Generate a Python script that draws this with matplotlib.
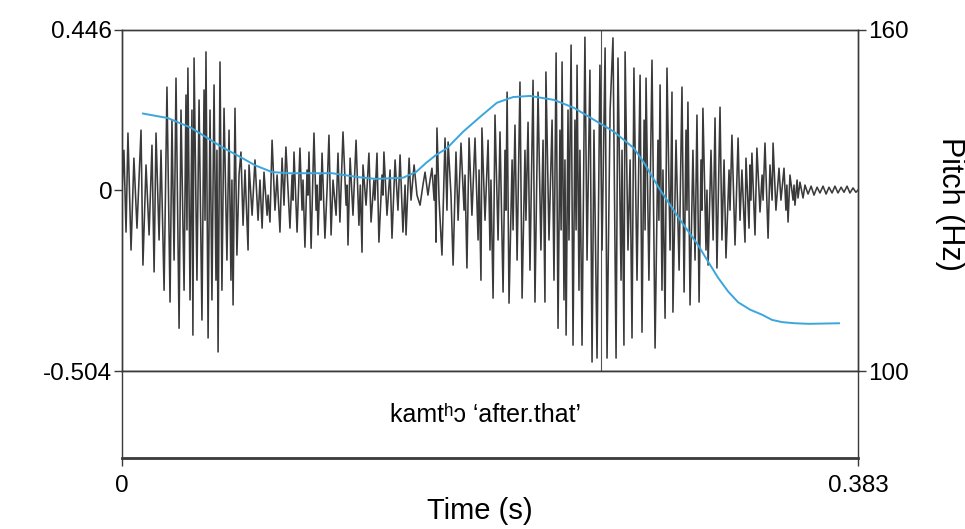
import matplotlib
matplotlib.use("Agg")
import matplotlib.pyplot as plt

# Waveform extremes (time in ms, amplitude) read along the utterance
wave_t_ms = [
    0.0, 1.0, 2.1, 3.1, 4.7, 6.2, 7.8, 9.9, 10.9, 12.5, 14.1, 15.6, 16.7, 17.7, 19.3, 20.3,
    21.9, 23.4, 25.0, 26.0, 27.1, 28.1, 29.7, 30.7, 32.3, 33.3, 33.8, 34.3, 35.4, 36.4, 36.9,
    37.5, 39.0, 40.1, 41.6, 42.7, 43.2, 43.7, 44.8, 45.8, 46.8, 47.9, 48.9, 49.4, 50.0, 51.0,
    52.0, 53.1, 54.6, 55.7, 56.7, 57.2, 57.8, 58.8, 59.8, 60.9, 61.9, 63.0, 64.0, 65.6, 66.1,
    67.7, 69.2, 70.8, 71.8, 72.9, 73.9, 75.5, 76.0, 77.0, 78.1, 79.6, 80.7, 82.2, 83.3, 84.3,
    85.3, 87.4, 88.5, 89.0, 89.5, 91.1, 92.6, 93.7, 94.2, 95.2, 96.3, 96.8, 97.3, 98.4, 99.9,
    101.0, 101.5, 102.0, 103.0, 103.5, 104.1, 105.6, 106.7, 107.7, 108.8, 109.8, 111.4, 112.4,
    113.4, 115.0, 116.6, 117.1, 117.6, 118.7, 120.2, 121.8, 123.3, 124.0, 124.9, 125.4, 127.0,
    128.5, 129.6, 131.1, 131.6, 132.7, 133.7, 135.3, 135.8, 136.3, 137.9, 139.5, 140.5, 142.1,
    143.6, 144.7, 146.2, 147.3, 147.8, 149.4, 150.4, 152.0, 153.5, 155.1, 156.6, 157.7, 159.2,
    160.3, 161.3, 162.4, 162.9, 163.4, 163.9, 165.0, 166.5, 168.1, 169.1, 169.7, 171.2, 172.3,
    173.8, 174.9, 176.4, 178.0, 178.5, 179.5, 180.6, 182.1, 183.7, 185.3, 185.8, 186.8, 187.3,
    188.9, 190.5, 191.5, 192.0, 193.1, 194.1, 195.7, 196.7, 198.3, 199.3, 199.8, 200.4, 201.4,
    203.0, 203.5, 204.5, 205.6, 207.1, 208.2, 209.7, 210.2, 211.3, 212.3, 213.9, 214.9, 216.5,
    218.0, 219.1, 220.1, 220.6, 222.2, 223.8, 224.8, 225.9, 226.9, 227.9, 228.5, 229.0, 230.0,
    230.5, 231.1, 232.1, 232.6, 233.7, 234.7, 235.7, 236.3, 236.8, 237.8, 238.3, 239.4, 240.9,
    242.0, 243.5, 244.6, 245.6, 247.2, 248.7, 249.8, 251.4, 252.4, 254.0, 255.5, 257.1, 258.1,
    259.7, 260.2, 261.2, 261.8, 263.3, 264.4, 265.4, 266.4, 268.0, 269.6, 270.6, 271.7, 272.2,
    272.7, 274.2, 275.8, 277.4, 278.9, 279.4, 280.0, 281.0, 281.5, 282.6, 283.6, 285.2, 286.2,
    286.7, 288.3, 289.9, 291.4, 292.5, 293.5, 294.0, 294.5, 295.6, 297.1, 298.2, 299.2, 300.3,
    301.3, 301.8, 302.3, 303.9, 304.4, 305.0, 306.5, 307.6, 308.6, 309.6, 311.2, 312.2, 313.3,
    314.3, 315.9, 316.4, 317.4, 319.0, 320.6, 321.6, 322.6, 324.2, 324.7, 326.3, 326.8, 327.3,
    327.8, 329.4, 330.4, 332.0, 333.1, 333.6, 334.6, 336.2, 337.2, 338.3, 338.8, 340.3, 341.9,
    342.9, 344.5, 345.5, 346.0, 346.6, 347.6, 349.2, 349.7, 350.2, 351.3, 351.8, 352.8, 354.4,
    355.4, 357.0, 358.6, 360.1, 361.7, 363.2, 364.8, 366.4, 367.9, 369.5, 371.0, 372.6, 374.2,
    375.7, 377.3, 378.8, 380.4, 381.9, 383.0,
]
wave_amp = [
    0.000, 0.111, -0.117, 0.159, -0.167, 0.089, -0.106, 0.167, -0.209, 0.070, -0.125, 0.125, -0.228, 0.159, -0.139, 0.111,
    -0.279, 0.287, -0.312, 0.195, -0.195, 0.312, -0.385, 0.223, -0.279, 0.265, -0.111, 0.340, -0.306, 0.223, -0.404,
    0.368, -0.251, 0.251, -0.362, 0.279, -0.084, 0.385, -0.412, 0.223, -0.306, 0.293, -0.251, 0.111, -0.451, 0.357,
    -0.279, 0.228, -0.195, 0.167, -0.251, 0.028, -0.320, 0.228, -0.181, 0.042, 0.106, -0.098, 0.056, -0.167, 0.070,
    -0.070, 0.084, -0.084, 0.028, -0.106, 0.050, -0.070, -0.014, -0.089, 0.139, -0.056, 0.042, -0.117, 0.089, -0.042,
    0.120, -0.106, 0.042, -0.028, 0.106, -0.117, 0.117, -0.056, 0.028, -0.159, 0.056, -0.014, 0.106, -0.162, 0.159,
    -0.056, 0.014, -0.125, 0.042, -0.028, 0.103, -0.134, 0.000, 0.153, -0.125, 0.028, -0.070, 0.103,
    -0.089, 0.162, -0.042, 0.014, -0.153, 0.089, -0.070, 0.139, -0.098, 0.014, -0.173, 0.070, -0.042,
    0.103, -0.089, 0.028, -0.028, 0.103, -0.145, 0.042, -0.014, 0.106, -0.070, 0.056, -0.134, 0.084,
    -0.056, 0.098, -0.117, 0.014, -0.125, 0.089, -0.028, 0.070, -0.014, -0.042, 0.014, 0.050, -0.014,
    0.028, 0.061, -0.028, 0.042, -0.145, 0.173, -0.028, -0.181, 0.145, -0.056, 0.134, -0.014, -0.209,
    0.106, -0.084, 0.131, -0.056, 0.042, -0.217, 0.145, -0.070, 0.145, -0.139, 0.056, -0.251, 0.173,
    -0.084, 0.139, -0.167, 0.028, -0.301, 0.209, -0.139, 0.162, -0.284, 0.111, -0.056, 0.273, -0.315,
    0.084, -0.111, 0.181, -0.195, 0.301, -0.301, 0.111, -0.084, 0.189, -0.223, 0.306, -0.312, 0.273,
    -0.167, 0.139, -0.312, 0.329, -0.139, 0.195, -0.251, 0.382, -0.385, 0.167, -0.111, 0.357, -0.306,
    0.084, -0.404, 0.223, -0.139, 0.404, -0.432, 0.195, -0.111, 0.348, -0.279, 0.111, -0.432, 0.426,
    -0.195, 0.334, -0.479, 0.167, -0.468, 0.348, -0.167, 0.396, -0.468, 0.223, 0.424, -0.468, 0.368,
    -0.251, 0.111, -0.432, 0.385, -0.167, 0.084, -0.412, 0.340, -0.251, 0.320, -0.396, 0.195, -0.111,
    0.312, -0.251, 0.362, -0.440, 0.139, -0.084, 0.293, -0.279, 0.056, -0.357, 0.340, -0.167, 0.273,
    -0.340, 0.139, -0.223, 0.287, -0.284, 0.167, -0.056, 0.245, -0.320, 0.111, -0.195, 0.209, -0.312,
    0.084, -0.056, 0.228, -0.167, 0.000, -0.209, 0.111, -0.139, 0.201, -0.217, 0.231, -0.139, 0.084,
    -0.189, 0.056, -0.056, 0.153, -0.153, 0.145, -0.084, 0.056, -0.145, 0.089, -0.106, 0.070, -0.028,
    0.103, -0.125, 0.117, -0.061, 0.042, -0.028, 0.131, -0.134, 0.070, -0.028, 0.131, -0.056, 0.061,
    -0.028, 0.061, -0.056, 0.014, -0.089, 0.042, -0.028, 0.014, -0.042, 0.028, -0.022, 0.022, -0.022,
    0.014, -0.011, 0.011, -0.014, 0.008, -0.008, 0.011, -0.011, 0.008, -0.008, 0.011, -0.008, 0.008,
    -0.006, 0.011, -0.008, 0.006, -0.006, 0.000,
]

# Pitch track (time in ms, F0 in Hz)
pitch_t_ms = [10.9, 23.9, 35.9, 52.0, 62.4, 69.2, 78.1, 86.9, 109.3, 123.3, 132.2, 146.2, 153.0,
              158.2, 163.4, 169.1, 177.5, 186.3, 195.1, 203.5, 212.3, 224.8, 235.2, 245.6, 256.0,
              266.4, 271.7, 279.4, 289.8, 299.7, 304.9, 310.2, 315.4, 320.6, 326.8, 333.1, 338.2,
              343.5, 350.2, 357.5, 373.1]
pitch_hz = [145.3, 144.5, 142.8, 139.4, 137.5, 136.2, 135.0, 134.8, 134.8, 134.1, 133.8, 134.0, 135.0,
            136.6, 138.0, 139.2, 142.1, 144.7, 147.2, 148.2, 148.4, 147.7, 146.3, 144.2, 142.1,
            139.2, 136.6, 132.2, 126.9, 122.2, 119.3, 116.4, 114.0, 112.1, 110.8, 109.9, 109.0,
            108.6, 108.4, 108.3, 108.4]

duration = 0.383
amp_max, amp_min = 0.446, -0.504
f0_floor, f0_ceiling = 100, 160
cursor_time = 0.2493
interval_label = "kamtʰɔ ‘after.that’"
label_time = 0.189

plt.rcParams["font.family"] = ["Liberation Sans", "DejaVu Sans"]
plt.rcParams["font.size"] = 17.5

W, H = 965, 529
fig = plt.figure(figsize=(W / 100, H / 100), dpi=100)
fig.patch.set_facecolor("white")

left, right = 122 / W, 858 / W
ax = fig.add_axes([left, (H - 371) / H, right - left, 341 / H])
tier = fig.add_axes([left, (H - 458) / H, right - left, 87 / H])

frame_col = "#3a3a3a"

# Waveform panel
ax.plot([t / 1000 for t in wave_t_ms], wave_amp, color="#3a3a3a", lw=1.15, zorder=2)
ax.axvline(cursor_time, color="#555555", lw=0.8, zorder=1)
ax.set_xlim(0, duration)
ax.set_ylim(amp_min, amp_max)
ax.set_xticks([])
ax.set_yticks([amp_max, 0, amp_min])
ax.set_yticklabels(["0.446", "0", "-0.504"])
ax.tick_params(axis="y", direction="out", length=6, width=1, color=frame_col, pad=1)
for s in ax.spines.values():
    s.set_color(frame_col)
    s.set_linewidth(1.0)

# Pitch contour on the right-hand scale
ax2 = ax.twinx()
ax2.plot([t / 1000 for t in pitch_t_ms], pitch_hz, color="#3aa6dc", lw=1.4, zorder=3,
         solid_joinstyle="round")
ax2.set_ylim(f0_floor, f0_ceiling)
ax2.set_yticks([f0_ceiling, f0_floor])
ax2.set_yticklabels(["160", "100"])
ax2.tick_params(axis="y", direction="out", length=6, width=1, color=frame_col, pad=1)
for s in ax2.spines.values():
    s.set_color(frame_col)
    s.set_linewidth(1.0)
fig.text(950 / W, (H - 204) / H, "Pitch (Hz)", rotation=-90, ha="center", va="center",
         fontsize=22)

# Annotation tier
tier.set_xlim(0, duration)
tier.set_ylim(0, 1)
tier.text(label_time, 0.5, interval_label, ha="center", va="center", fontsize=18)
tier.set_yticks([])
tier.set_xticks([0, duration])
tier.set_xticklabels(["0", "0.383"])
tier.tick_params(axis="x", direction="out", length=6, width=1, color=frame_col, pad=6)
for name, s in tier.spines.items():
    s.set_color(frame_col)
    s.set_linewidth(1.0)
tier.spines["bottom"].set_linewidth(2.0)
fig.text(480 / W, (H - 511) / H, "Time (s)", ha="center", va="center", fontsize=21)

fig.savefig("out.png", dpi=100, facecolor="white")
